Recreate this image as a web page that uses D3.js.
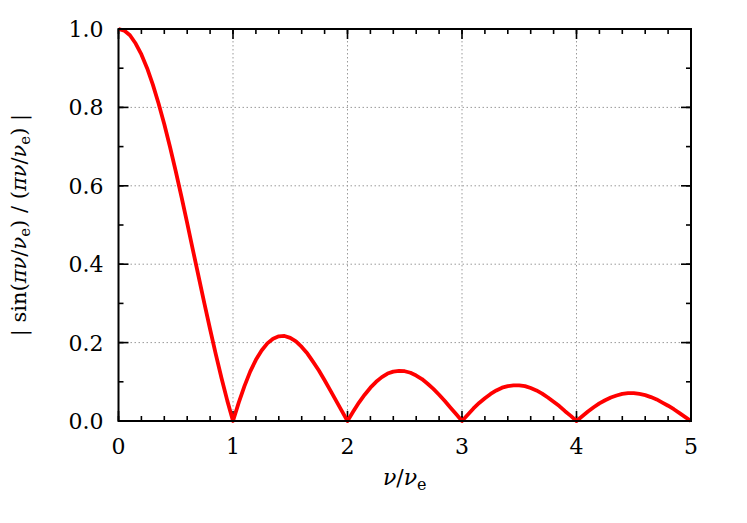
<!DOCTYPE html>
<html>
<head>
<meta charset="utf-8">
<script src="https://cdn.jsdelivr.net/npm/d3@7"></script>
<style>
  body { margin: 0; background: #fff; }
  text { font-family: "DejaVu Serif", serif; fill: #000; }
</style>
</head>
<body>
<svg id="chart" width="747" height="523"></svg>
<script>
// samples
const nu = [0.00,0.05,0.10,0.15,0.20,0.25,0.30,0.35,0.40,0.45,0.50,0.55,0.60,0.65,0.70,0.75,0.80,0.85,0.90,0.95,
    1.00,1.05,1.10,1.15,1.20,1.25,1.30,1.35,1.40,1.45,1.50,1.55,1.60,1.65,1.70,1.75,1.80,1.85,1.90,1.95,
    2.00,2.05,2.10,2.15,2.20,2.25,2.30,2.35,2.40,2.45,2.50,2.55,2.60,2.65,2.70,2.75,2.80,2.85,2.90,2.95,
    3.00,3.05,3.10,3.15,3.20,3.25,3.30,3.35,3.40,3.45,3.50,3.55,3.60,3.65,3.70,3.75,3.80,3.85,3.90,3.95,
    4.00,4.05,4.10,4.15,4.20,4.25,4.30,4.35,4.40,4.45,4.50,4.55,4.60,4.65,4.70,4.75,4.80,4.85,4.90,4.95,5.00];
const amp = [1.000,0.996,0.984,0.963,0.935,0.900,0.858,0.810,0.757,0.699,0.637,0.572,0.505,0.436,0.368,0.300,0.234,0.170,0.109,0.052,
    0.000,0.047,0.089,0.126,0.156,0.180,0.198,0.210,0.216,0.217,0.212,0.203,0.189,0.172,0.151,0.129,0.104,0.078,0.052,0.026,
    0.000,0.024,0.047,0.067,0.085,0.100,0.112,0.121,0.126,0.128,0.127,0.123,0.116,0.107,0.095,0.082,0.067,0.051,0.034,0.017,
    0.000,0.016,0.032,0.046,0.058,0.069,0.078,0.085,0.089,0.091,0.091,0.089,0.084,0.078,0.070,0.060,0.049,0.038,0.025,0.013,
    0.000,0.012,0.024,0.035,0.045,0.053,0.060,0.065,0.069,0.071,0.071,0.069,0.066,0.061,0.055,0.047,0.039,0.030,0.020,0.010,0.000];

const xTicks = [0, 1, 2, 3, 4, 5],
    xMinor = d3.range(0, 5.001, 0.2),
    yTicks = [0.0, 0.2, 0.4, 0.6, 0.8, 1.0],
    yMinor = d3.range(0, 1.001, 0.1);

const svg = d3.select('#chart'),
    x0 = 118.5, x1 = 691, y0 = 421, y1 = 29;

const x = d3.scaleLinear().domain([0, 5]).range([x0, x1]),
    y = d3.scaleLinear().domain([0, 1]).range([y0, y1]);

// grid
const grid = svg.append('g')
    .attr('stroke', '#9a9a9a')
    .attr('stroke-width', 1)
    .attr('stroke-dasharray', '1.5,2.5');
grid.selectAll('.gx').data(xTicks.slice(1, -1)).enter().append('line')
    .attr('x1', d => x(d)).attr('x2', d => x(d))
    .attr('y1', y1).attr('y2', y0);
grid.selectAll('.gy').data(yTicks.slice(1, -1)).enter().append('line')
    .attr('y1', d => y(d)).attr('y2', d => y(d))
    .attr('x1', x0).attr('x2', x1);

// ticks, mirrored on all four sides, pointing inward
const ticks = svg.append('g').attr('stroke', '#000').attr('stroke-width', 1.6);
function tickset(vals, len, horiz) {
    vals.forEach(v => {
        if (horiz) {
            ticks.append('line').attr('x1', x(v)).attr('x2', x(v)).attr('y1', y0).attr('y2', y0 - len);
            ticks.append('line').attr('x1', x(v)).attr('x2', x(v)).attr('y1', y1).attr('y2', y1 + len);
        } else {
            ticks.append('line').attr('y1', y(v)).attr('y2', y(v)).attr('x1', x0).attr('x2', x0 + len);
            ticks.append('line').attr('y1', y(v)).attr('y2', y(v)).attr('x1', x1).attr('x2', x1 - len);
        }
    });
}
tickset(xMinor, 5, true);
tickset(xTicks, 10, true);
tickset(yMinor, 5, false);
tickset(yTicks, 10, false);

// curve
const line = d3.line()
    .x((d, i) => x(nu[i]))
    .y(d => y(d));
svg.append('path')
    .datum(amp)
    .attr('fill', 'none')
    .attr('stroke', '#ff0000')
    .attr('stroke-width', 3.8)
    .attr('stroke-linejoin', 'round')
    .attr('d', line);

// frame
svg.append('rect')
    .attr('x', x0).attr('y', y1)
    .attr('width', x1 - x0).attr('height', y0 - y1)
    .attr('fill', 'none')
    .attr('stroke', '#000')
    .attr('stroke-width', 2);

// tick labels
svg.selectAll('.xl').data(xTicks).enter().append('text')
    .attr('x', d => x(d)).attr('y', y0 + 33)
    .attr('text-anchor', 'middle')
    .attr('font-size', 22)
    .text(d => d);
svg.selectAll('.yl').data(yTicks).enter().append('text')
    .attr('x', x0 - 15).attr('y', d => y(d) + 8)
    .attr('text-anchor', 'end')
    .attr('font-size', 22)
    .text(d => d.toFixed(1));

// axis titles
const xt = svg.append('text')
    .attr('x', (x0 + x1) / 2).attr('y', 485)
    .attr('text-anchor', 'middle')
    .attr('font-size', 22);
xt.append('tspan').attr('font-style', 'italic').text('ν');
xt.append('tspan').text('/');
xt.append('tspan').attr('font-style', 'italic').text('ν');
xt.append('tspan').attr('font-size', 16).attr('dy', 5).text('e');

const yt = svg.append('text')
    .attr('transform', 'translate(26,' + (y0 + y1) / 2 + ') rotate(-90)')
    .attr('text-anchor', 'middle')
    .attr('font-size', 21);
const parts = [['| sin(', 0], ['π', 1], ['ν', 1], ['/', 0], ['ν', 1], ['e', 2], [') / (', 3], ['π', 1], ['ν', 1], ['/', 0], ['ν', 1], ['e', 2], [') |', 3]];
parts.forEach(p => {
    const t = yt.append('tspan').text(p[0]);
    if (p[1] === 1) t.attr('font-style', 'italic');
    if (p[1] === 2) t.attr('font-size', 15).attr('dy', 4);
    if (p[1] === 3) t.attr('dy', -4);
});
</script>
</body>
</html>
